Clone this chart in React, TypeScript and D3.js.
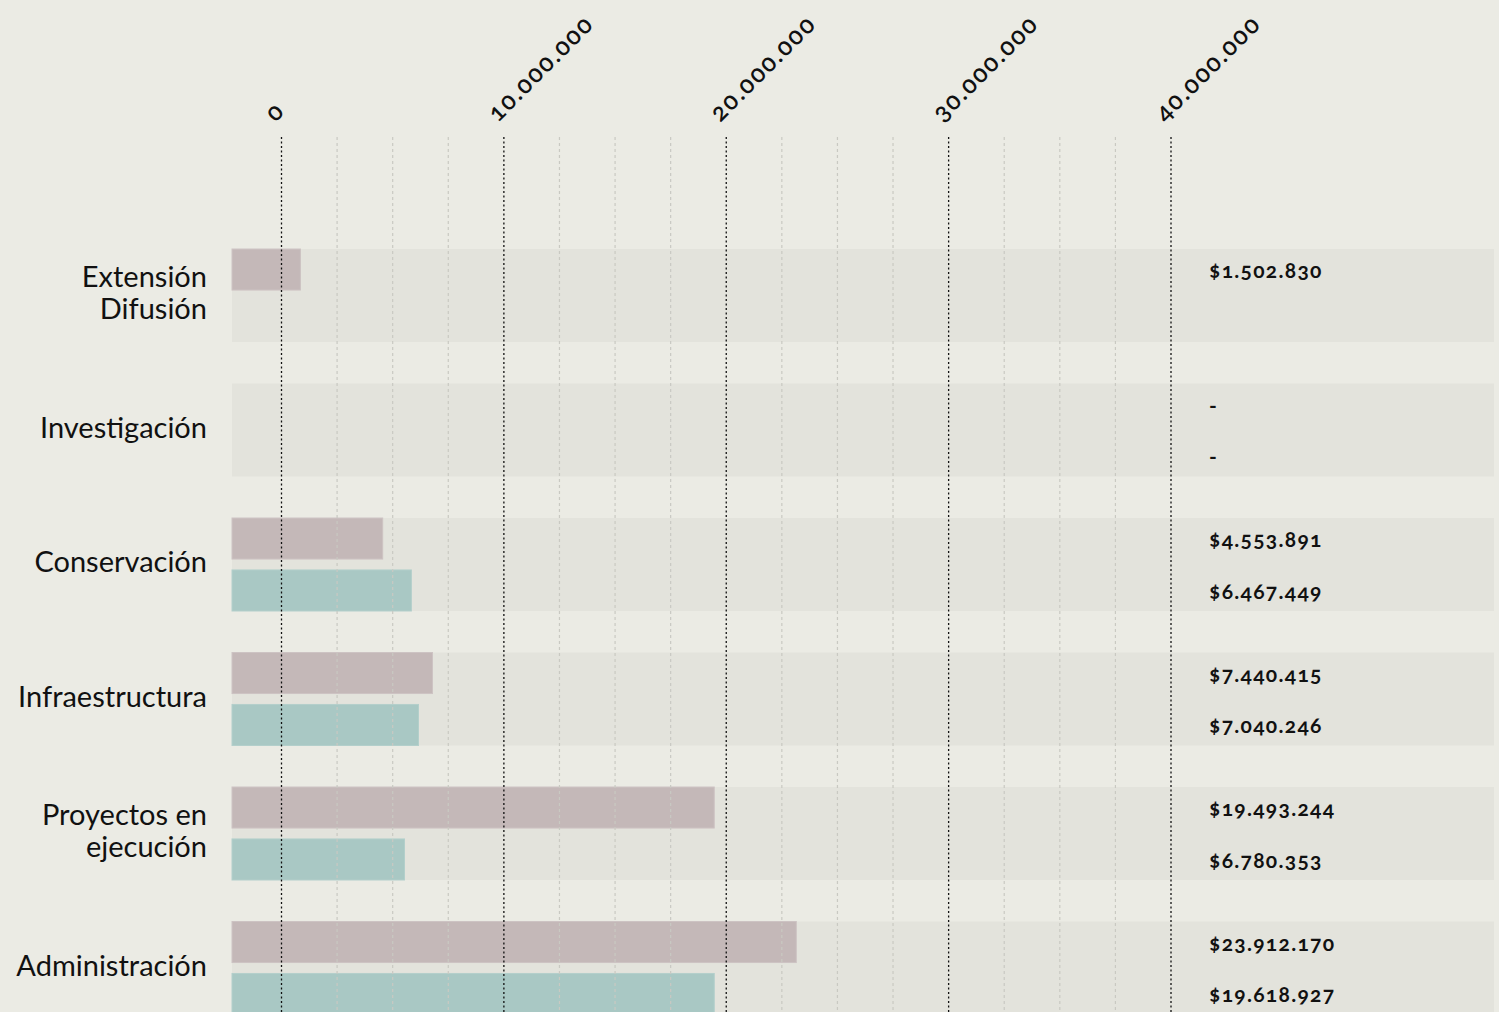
import React from "react";
import * as d3 from "d3";

const categories = [
  ["Extensión", "Difusión"],
  ["Investigación"],
  ["Conservación"],
  ["Infraestructura"],
  ["Proyectos en", "ejecución"],
  ["Administración"],
];
// bar values as drawn
const series1 = [850000, null, 4550000, 6790000, 19460000, 23150000];
const series2 = [null, null, 5840000, 6160000, 5530000, 19460000];
// printed value labels
const labels1 = ["$1.502.830", "-", "$4.553.891", "$7.440.415", "$19.493.244", "$23.912.170"];
const labels2 = ["", "-", "$6.467.449", "$7.040.246", "$6.780.353", "$19.618.927"];
const majorTicks = [0, 10000000, 20000000, 30000000, 40000000];
const tickLabels = ["0", "10.000.000", "20.000.000", "30.000.000", "40.000.000"];
const minorTicks = d3.range(0, 40000001, 2500000).filter((v) => v % 10000000 !== 0);

const W = 1499;
const H = 1012;
const BG = "#ebebe4";
const BAND = "#e3e3dc";
const C1 = "#c4b8b8";
const C2 = "#a9c8c4";
const FONT = "Lato, 'Open Sans', sans-serif";

export default function App() {
  const x = d3.scaleLinear().domain([0, 40000000]).range([281.5, 1171]);
  const panelLeft = 232;
  const panelRight = 1494;
  const step = 134.5;
  const gap = 41.5;
  const y = d3
    .scaleBand<number>()
    .domain(d3.range(categories.length))
    .range([249, 249 + categories.length * step - gap])
    .paddingInner(gap / step)
    .paddingOuter(0);
  const bw = y.bandwidth();
  const sub = d3.scaleBand<number>().domain([0, 1]).range([0, bw]).paddingInner(0.21).paddingOuter(0);
  const bh = sub.bandwidth();

  return (
    <div style={{ position: "fixed", left: 0, top: 0, width: W, height: H }}>
      <svg width={W} height={H} style={{ display: "block", background: BG }}>
        <rect x={0} y={0} width={W} height={H} fill={BG} />
        {/* bands */}
        {categories.map((_, i) => (
          <rect key={"b" + i} x={panelLeft} y={y(i)} width={panelRight - panelLeft} height={bw} fill={BAND} />
        ))}
        {/* bars */}
        {series1.map((v, i) =>
          v == null ? null : (
            <rect
              key={"s1" + i}
              x={panelLeft}
              y={(y(i) as number) + (sub(0) as number)}
              width={x(v) - panelLeft}
              height={bh}
              fill={C1}
              stroke="#cdc3c3"
              strokeWidth={1}
            />
          )
        )}
        {series2.map((v, i) =>
          v == null ? null : (
            <rect
              key={"s2" + i}
              x={panelLeft}
              y={(y(i) as number) + (sub(1) as number)}
              width={x(v) - panelLeft}
              height={bh}
              fill={C2}
              stroke="#b3cfcb"
              strokeWidth={1}
            />
          )
        )}
        {/* grid */}
        {minorTicks.map((t) => (
          <line
            key={"m" + t}
            x1={x(t)}
            x2={x(t)}
            y1={137}
            y2={H}
            stroke="#c9c9c2"
            strokeWidth={1.2}
            strokeDasharray="3,3"
          />
        ))}
        {majorTicks.map((t) => (
          <line
            key={"M" + t}
            x1={x(t)}
            x2={x(t)}
            y1={137}
            y2={H}
            stroke="#111"
            strokeWidth={1.3}
            strokeDasharray="2,2.5"
          />
        ))}
        {majorTicks.map((t, i) => (
          <text
            key={"t" + t}
            transform={`translate(${x(t) - 6},${123}) rotate(-45)`}
            fontFamily={FONT}
            fontSize={25}
            fontWeight={600}
            fill="#111"
            style={{ fontVariantNumeric: "oldstyle-nums", letterSpacing: "1.8px" }}
          >
            {tickLabels[i]}
          </text>
        ))}
        {/* category labels */}
        {categories.map((lines, i) => {
          const cy = (y(i) as number) + bw / 2 - 4;
          const lh = 32;
          const start = cy - ((lines.length - 1) * lh) / 2;
          return (
            <text key={"c" + i} textAnchor="end" fontFamily={FONT} fontSize={29} fill="#111">
              {lines.map((l, j) => (
                <tspan key={j} x={207} y={start + j * lh} dominantBaseline="central">
                  {l}
                </tspan>
              ))}
            </text>
          );
        })}
        {/* value labels */}
        {labels1.map((l, i) => (
          <text
            key={"l1" + i}
            x={1209}
            y={(y(i) as number) + (sub(0) as number) + bh / 2}
            dominantBaseline="central"
            fontFamily={FONT}
            fontWeight={700}
            fontSize={21}
            fill="#111"
            style={{ fontVariantNumeric: "oldstyle-nums", letterSpacing: "1.3px" }}
          >
            {l}
          </text>
        ))}
        {labels2.map((l, i) => (
          <text
            key={"l2" + i}
            x={1209}
            y={(y(i) as number) + (sub(1) as number) + bh / 2}
            dominantBaseline="central"
            fontFamily={FONT}
            fontWeight={700}
            fontSize={21}
            fill="#111"
            style={{ fontVariantNumeric: "oldstyle-nums", letterSpacing: "1.3px" }}
          >
            {l}
          </text>
        ))}
      </svg>
    </div>
  );
}
